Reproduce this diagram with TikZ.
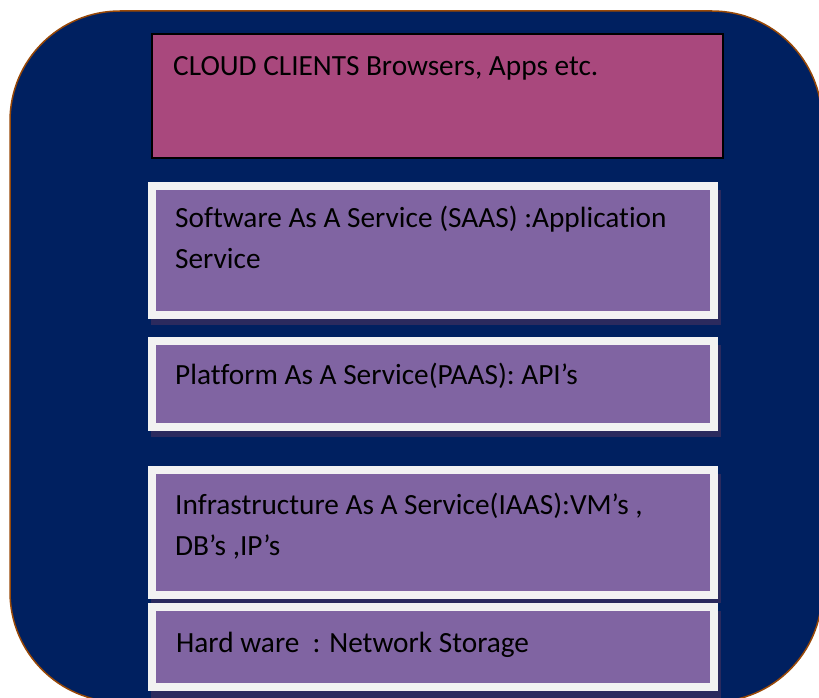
\documentclass[tikz,border=0pt]{standalone}
\usepackage{fontspec}
\setmainfont[Ligatures=NoCommon]{Carlito}
\definecolor{cloudnavy}{HTML}{002060}
\definecolor{cloudrim}{HTML}{984807}
\definecolor{clientpink}{HTML}{A9487D}
\definecolor{layerpurple}{HTML}{8064A2}
\definecolor{layerrim}{HTML}{F2F2F2}
\definecolor{layershade}{HTML}{2B2A5E}
\tikzset{
  layer/.style={fill=layerpurple, draw=layerrim, line width=8pt},
  shade/.style={fill=layershade},
  label/.style={anchor=base west, inner sep=0pt, font=\fontsize{29.3}{35}\selectfont}
}
\begin{document}
\begin{tikzpicture}[x=1pt, y=-1pt]
	\useasboundingbox (0,0) rectangle (819,698);
	% outer cloud frame
	\begin{scope}
		\clip (0,0) rectangle (819,698);
		\draw[fill=cloudnavy, draw=cloudrim, line width=1.5pt, rounded corners=110pt] (10,11) rectangle (822,702);
	\end{scope}
	% clients
	\draw[fill=clientpink, line width=2pt] (152,34) rectangle (723,158);
	\node (clients) at (173,76) [label] {CLOUD CLIENTS Browsers, Apps etc.};
	% service layers
	\fill[shade] (151,190) rectangle (721,325);
	\draw[layer] (152,186) rectangle (714,315);
	\node (saas) at (175,227) [label] {Software As A Service (SAAS) :Application};
	\node (saas2) at (175,268) [label] {Service};
	\fill[shade] (151,345) rectangle (721,437);
	\draw[layer] (152,341) rectangle (714,427);
	\node (paas) at (175,384) [label] {Platform As A Service(PAAS): API’s};
	\fill[shade] (151,474) rectangle (721,603);
	\draw[layer] (152,470) rectangle (714,595);
	\node (iaas) at (175,514) [label] {Infrastructure As A Service(IAAS):VM’s ,};
	\node (iaas2) at (175,555) [label] {DB’s ,IP’s};
	\fill[shade] (151,611) rectangle (721,698);
	\draw[layer] (152,607) rectangle (714,687);
	\node (hw) at (176,652) [label] {Hard ware\ \ : Network Storage};
\end{tikzpicture}
\end{document}
